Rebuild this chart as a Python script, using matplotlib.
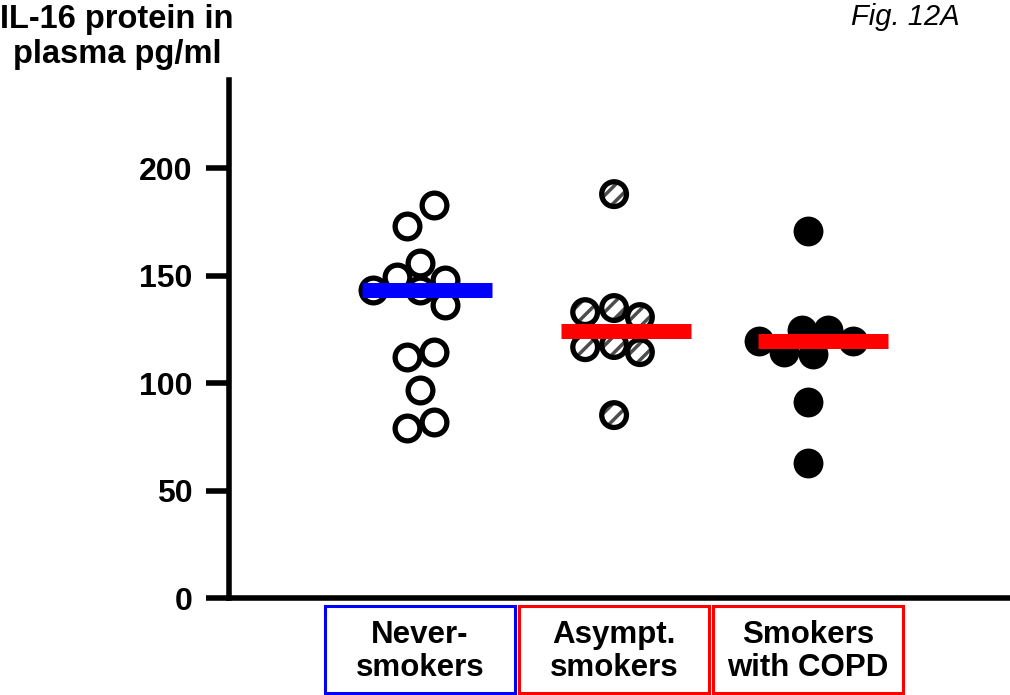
import matplotlib
matplotlib.use('Agg')
import matplotlib.pyplot as plt
import matplotlib.transforms as mtransforms
from matplotlib.patches import Rectangle
import numpy as np

plt.rcParams['font.family'] = ['Liberation Sans', 'DejaVu Sans']
plt.rcParams['hatch.linewidth'] = 2.5
plt.rcParams['hatch.color'] = '0.3'

# ---- data ----
categories = ['Never-\nsmokers', 'Asympt.\nsmokers', 'Smokers\nwith COPD']
box_colors = ['#0000ff', '#ff0000', '#ff0000']
median_colors = ['#0000ff', '#ff0000', '#ff0000']

never_vals = [182.8, 173.0, 155.8, 149.3, 147.9, 143.3, 143.3, 136.3, 112.1, 114.4, 96.7, 79.1, 81.9]
never_dx = [0.072, -0.067, 0.0, -0.118, 0.128, -0.241, 0.0, 0.128, -0.067, 0.072, 0.0, -0.067, 0.072]

asym_vals = [187.9, 133.0, 134.9, 130.7, 116.7, 117.7, 114.4, 85.1]
asym_dx = [0.0, -0.149, 0.0, 0.133, -0.149, 0.0, 0.133, 0.0]

copd_vals = [170.7, 119.5, 114.4, 124.7, 113.5, 124.7, 119.5, 91.2, 62.8]
copd_dx = [0.0, -0.253, -0.124, -0.031, 0.026, 0.103, 0.232, 0.0, 0.0]

median_dx = [0.036, 0.062, 0.075]

yticks = [0, 50, 100, 150, 200]

# ---- figure ----
fig = plt.figure(figsize=(10.1, 6.95), dpi=100)
W, H = 1010, 695
ax = fig.add_axes([229 / W, 97 / H, (1008 - 229) / W, (598 - 80) / H])
ax.set_xlim(-0.9845, 3.03)
ax.set_ylim(0, 241)

for s in ['top', 'right']:
    ax.spines[s].set_visible(False)
for s in ['left', 'bottom']:
    ax.spines[s].set_linewidth(4)
ax.set_xticks([])
ax.set_yticks(yticks)
ax.set_yticklabels([str(t) for t in yticks], fontsize=23, fontweight='bold')
ax.tick_params(axis='y', length=16.5, width=4, pad=10)

MS = 17.8
MEW = 3.8

# Never-smokers: open circles
x0 = [0 + d for d in never_dx]
ax.plot(x0, never_vals, 'o', ms=MS, mfc='white', mec='black', mew=MEW,
        ls='none', zorder=3)

# Asymptomatic smokers: hatched circles
x1 = [1 + d for d in asym_dx]
ax.scatter(x1, asym_vals, s=MS ** 2, facecolor='white', edgecolor='0.3',
           hatch='//', linewidth=0, zorder=3)
ax.scatter(x1, asym_vals, s=MS ** 2, facecolor='none', edgecolor='black',
           linewidth=MEW, zorder=3.1)

# Smokers with COPD: filled circles
x2 = [2 + d for d in copd_dx]
ax.plot(x2, copd_vals, 'o', ms=21.5, mfc='black', mec='black', mew=0,
        ls='none', zorder=3)

# median lines
groups = [never_vals, asym_vals, copd_vals]
for i, g in enumerate(groups):
    m = np.median(g)
    c = i + median_dx[i]
    ax.plot([c - 0.335, c + 0.335], [m, m], color=median_colors[i], lw=10.8,
            solid_capstyle='butt', zorder=4)

# category boxes below the axis
trans = mtransforms.blended_transform_factory(ax.transData, fig.transFigure)
y_lo = (H - 693) / H
y_hi = (H - 606) / H
for i, (lab, c) in enumerate(zip(categories, box_colors)):
    rect = Rectangle((i - 0.49, y_lo), 0.98, y_hi - y_lo, transform=trans,
                     fill=False, edgecolor=c, linewidth=2.2, clip_on=False)
    ax.add_patch(rect)
    ax.text(i, (y_lo + y_hi) / 2 - 0.003, lab, transform=trans, ha='center',
            va='center', fontsize=22.5, fontweight='bold', linespacing=1.12)

# titles
fig.text(117 / W, 1 - 28 / H, 'IL-16 protein in', ha='center', va='baseline',
         fontsize=23.5, fontweight='bold')
fig.text(117 / W, 1 - 63 / H, 'plasma pg/ml', ha='center', va='baseline',
         fontsize=23.5, fontweight='bold')
fig.text(960 / W, 1 - 25 / H, 'Fig. 12A', ha='right', va='baseline',
         fontsize=21, style='italic')

fig.savefig('out.png', dpi=100)
